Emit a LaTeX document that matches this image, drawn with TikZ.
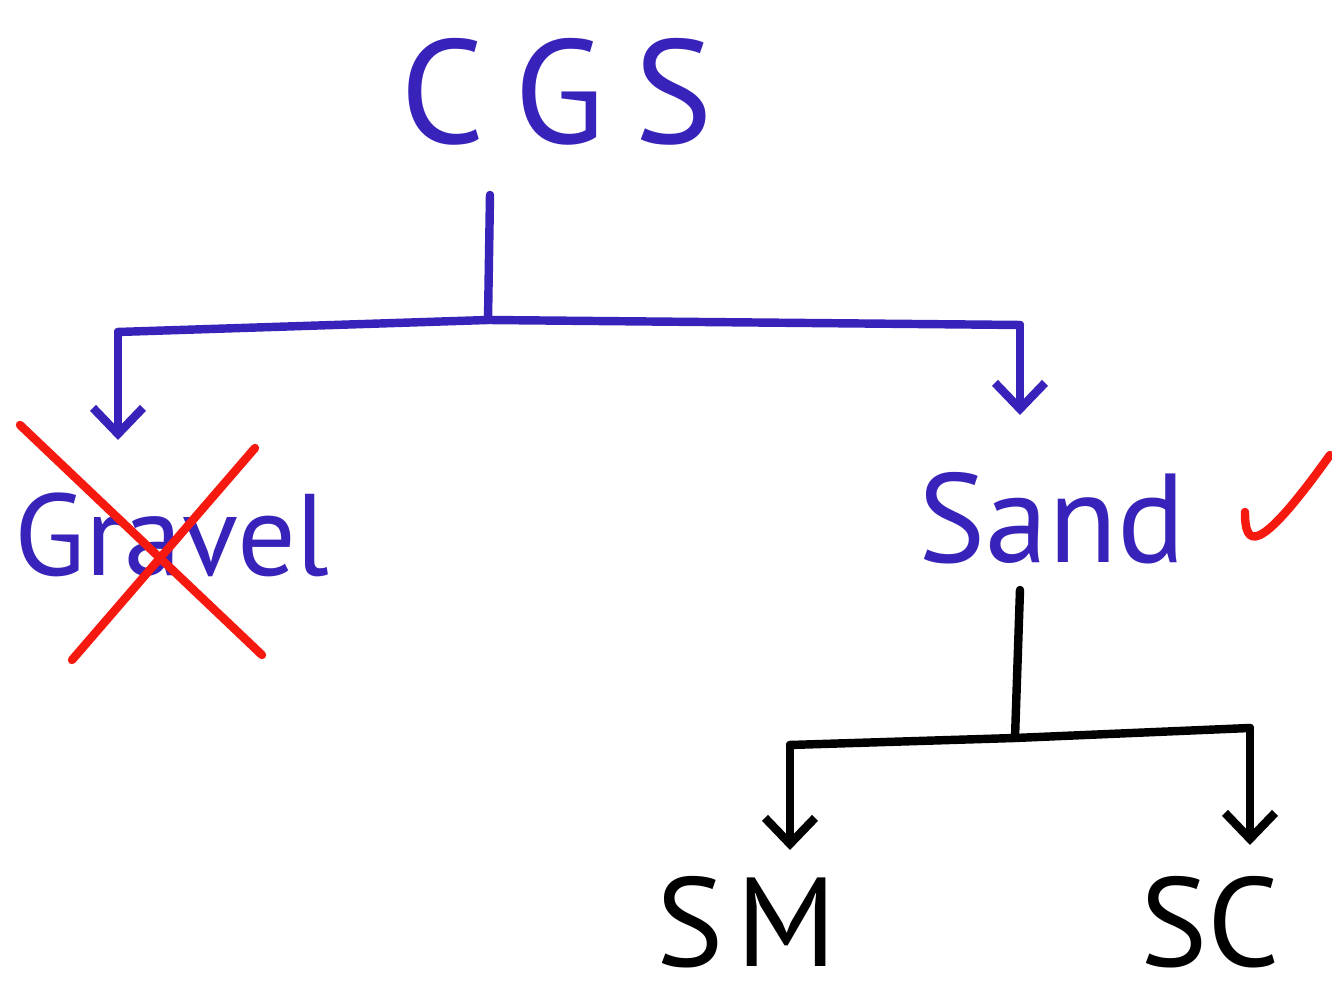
\documentclass[tikz,border=0pt]{standalone}
\usepackage{fontspec}
\setmainfont{PT Sans}
\usetikzlibrary{arrows.meta}
\definecolor{penblue}{RGB}{55,35,185}
\definecolor{penred}{RGB}{245,25,15}
\tikzset{
  hand/.style={line width=2.4pt, line cap=round, line join=round},
  down/.style={hand, -{Straight Barb[length=2.6mm,width=5mm,line width=2.4pt]}},
  word/.style={inner sep=0pt, font=\fontsize{36}{42}\selectfont}
}
\begin{document}
\begin{tikzpicture}[x=0.01cm,y=-0.01cm]
  \useasboundingbox (0,0) rectangle (1332,1007);
  \node[word,penblue,font=\fontsize{42}{48}\selectfont] (cgs) at (557,92) {C\hspace{0.2em}G\hspace{0.2em}S};
  \node[word,penblue,font=\fontsize{33}{38}\selectfont] (gravel) at (172,535) {Gravel};
  \node[word,penblue] (sand) at (1052,518) {Sand};
  \node[word] (sm) at (747,922) {S\hspace{0.1em}M};
  \node[word] (sc) at (1210,922) {SC};
  % top branch
  \coordinate (stem) at (490,195);
  \coordinate (split) at (488,320);
  \coordinate (lend) at (118,332);
  \coordinate (rend) at (1020,325);
  \draw[hand,penblue] (stem) -- (split);
  \draw[hand,penblue] (lend) -- (split) -- (rend);
  \draw[down,penblue] (lend) -- (lend |- 0,440);
  \draw[down,penblue] (rend) -- (rend |- 0,415);
  % sand branch
  \coordinate (sstem) at (1020,590);
  \coordinate (ssplit) at (1015,738);
  \coordinate (smend) at (790,745);
  \coordinate (scend) at (1250,728);
  \draw[hand] (sstem) -- (ssplit);
  \draw[hand] (smend) -- (ssplit) -- (scend);
  \draw[down] (smend) -- (smend |- 0,850);
  \draw[down] (scend) -- (scend |- 0,845);
  % marks
  \draw[hand,penred] (20,425) -- (262,655);
  \draw[hand,penred] (72,660) -- (255,448);
  \draw[hand,penred] (1245,512) .. controls (1245,545) and (1255,560) .. (1330,455);
\end{tikzpicture}
\end{document}
